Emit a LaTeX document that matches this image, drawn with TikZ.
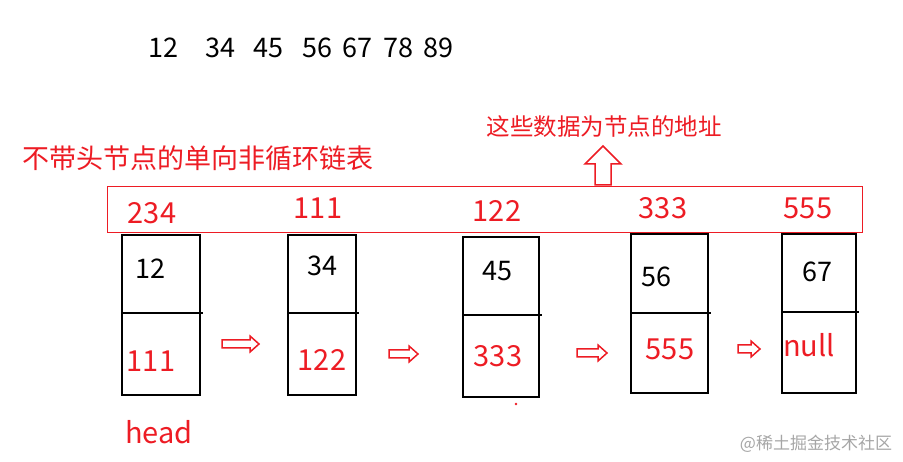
\documentclass[tikz,border=0pt]{standalone}
\usepackage{fontspec}
\setmainfont{Noto Sans CJK SC}
\definecolor{rd}{RGB}{237,28,36}
\begin{document}
\begin{tikzpicture}[x=1pt,y=-1pt,
 rt/.style={text=rd,font=\fontsize{29}{30}\selectfont},
 bt/.style={text=black,font=\fontsize{27}{28}\selectfont},
 cell/.style={draw=black,line width=1.5pt},
 harrow/.style={draw=rd,line width=1.5pt,fill=white}]
\useasboundingbox (0,0) rectangle (903,462);
\foreach \v/\x in {12/163,34/220,45/268,56/317,67/357,78/398,89/438}
  \node[bt] (n\v) at (\x,48) {\v};
\node[rt,anchor=west,font=\fontsize{27}{28}\selectfont] (title) at (19,158) {不带头节点的单向非循环链表};
\node[rt,anchor=west,font=\fontsize{23.5}{24}\selectfont] (addr) at (483,127) {这些数据为节点的地址};
\draw[harrow] (603,146) -- (621,164) -- (611,164) -- (611,185) -- (595,185) -- (595,164) -- (585,164) -- cycle;
\draw[rd,line width=0.8pt] (107,186) rectangle (862,232);
\foreach \n/\x/\yt/\yb/\w/\yd/\ad/\ax/\ay/\tp/\tpx/\tpy/\bo/\bx/\boy in
 {a/122/235/395/78/313/234/152/213/12/150/269/111/151/361,
  b/288/235/395/68/313/111/318/208/34/322/266/122/322/360,
  c/463/237/397/76/315/122/497/211/45/497/271/333/498/356,
  d/631/234/393/77/313/333/663/208/56/656/277/555/670/349,
  e/782/234/393/74/312/555/808/208/67/817/272/null/809/345}{
  \draw[cell] (\x,\yt) rectangle ++(\w,\yb-\yt);
  \draw[cell] (\x,\yd) -- ++(\w+3,0);
  \node[rt] (ad\n) at (\ax,\ay) {\ad};
  \node[bt] (tp\n) at (\tpx,\tpy) {\tp};
  \node[rt] (bo\n) at (\bx,\boy) {\bo};
}
\foreach \x/\y/\l in {222/344/37,389/354/29,577/353/30,738/349/22}{
  \draw[harrow] (\x,\y-4) -- (\x+\l-9,\y-4) -- (\x+\l-9,\y-8) -- (\x+\l,\y) -- (\x+\l-9,\y+8) -- (\x+\l-9,\y+4) -- (\x,\y+4) -- cycle;
}
\fill[rd] (516,404) circle (1.3);
\node[rt] (head) at (159,432) {head};
\node[text=gray!70,font=\fontsize{17}{18}\selectfont] (wm) at (816,444) {@稀土掘金技术社区};
\end{tikzpicture}
\end{document}
